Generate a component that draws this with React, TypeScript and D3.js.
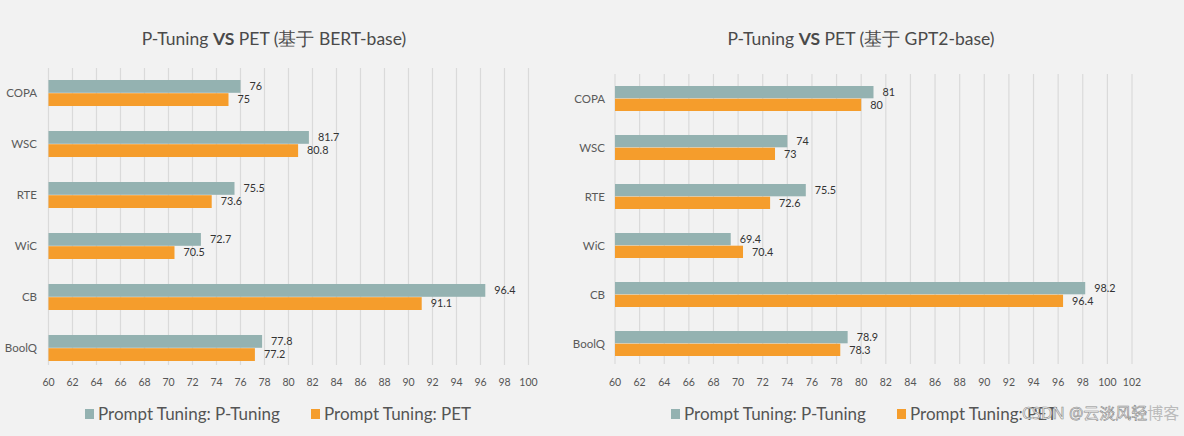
import React from "react";
import * as d3 from "d3";

const categories = ["COPA", "WSC", "RTE", "WiC", "CB", "BoolQ"];
const bertPTuning = [76, 81.7, 75.5, 72.7, 96.4, 77.8];
const bertPET = [75, 80.8, 73.6, 70.5, 91.1, 77.2];
const gpt2PTuning = [81, 74, 75.5, 69.4, 98.2, 78.9];
const gpt2PET = [80, 73, 72.6, 70.4, 96.4, 78.3];
const bertTicks = [60, 62, 64, 66, 68, 70, 72, 74, 76, 78, 80, 82, 84, 86, 88, 90, 92, 94, 96, 98, 100];
const gpt2Ticks = [60, 62, 64, 66, 68, 70, 72, 74, 76, 78, 80, 82, 84, 86, 88, 90, 92, 94, 96, 98, 100, 102];
const seriesNames = ["Prompt Tuning: P-Tuning", "Prompt Tuning: PET"];
const titleModel = ["BERT-base", "GPT2-base"];

const TEAL = "#94b2b1";
const ORANGE = "#f59d2c";
const FONT = "Lato, 'Noto Sans', sans-serif";

type PanelProps = {
  a: number[];
  b: number[];
  ticks: number[];
  model: string;
  xRange: [number, number];
  yRange: [number, number];
  gridTop: number;
  gridBottom: number;
  labelRight: number;
  titleX: number;
  legendX: [number, number];
};

function Panel(p: PanelProps) {
  const x = d3.scaleLinear().domain([p.ticks[0], p.ticks[p.ticks.length - 1]]).range(p.xRange);
  const y = d3.scaleBand<string>().domain(categories).range(p.yRange).paddingInner(0.49).paddingOuter(0);
  const inner = d3.scaleBand<string>().domain(["a", "b"]).range([0, y.bandwidth()]).paddingInner(0.03);
  const series = [p.a, p.b];
  const colors = [TEAL, ORANGE];
  return (
    <g>
      <text x={p.titleX} y={45} textAnchor="middle" fontSize={17.5} fill="#4a4a4a" fontFamily={FONT}>
        P-Tuning <tspan fontWeight="bold">VS</tspan> PET (基于 {p.model})
      </text>
      {p.ticks.map((t) => (
        <line key={"g" + t} x1={x(t)} x2={x(t)} y1={p.gridTop} y2={p.gridBottom} stroke="#dadada" strokeWidth={1.2} />
      ))}
      {p.ticks.map((t) => (
        <text key={"t" + t} x={x(t)} y={382} dy="0.35em" textAnchor="middle" fontSize={10.5} fill="#555" fontFamily={FONT}>
          {t}
        </text>
      ))}
      {categories.map((c, i) => (
        <g key={c}>
          <text x={p.labelRight} y={(y(c) as number) + y.bandwidth() / 2} dy="0.35em" textAnchor="end" fontSize={11.5} fill="#5a5a5a" fontFamily={FONT}>
            {c}
          </text>
          {series.map((s, k) => {
            const yy = (y(c) as number) + (inner(k === 0 ? "a" : "b") as number);
            const h = inner.bandwidth();
            return (
              <g key={k}>
                <rect x={x(p.ticks[0])} y={yy} width={x(s[i]) - x(p.ticks[0])} height={h} fill={colors[k]} />
                <text x={x(s[i]) + 9} y={yy + h / 2} dy="0.35em" fontSize={10.8} fill="#333" fontFamily={FONT}>
                  {s[i]}
                </text>
              </g>
            );
          })}
        </g>
      ))}
      {seriesNames.map((n, k) => (
        <g key={n}>
          <rect x={p.legendX[k]} y={409} width={9} height={10} fill={colors[k]} />
          <text x={p.legendX[k] + 13} y={414} dy="0.35em" fontSize={17} fill="#555" fontFamily={FONT}>
            {n}
          </text>
        </g>
      ))}
    </g>
  );
}

export default function App() {
  return (
    <svg width={1184} height={436} style={{ position: "absolute", left: 0, top: 0 }}>
      <rect x={0} y={0} width={1184} height={436} fill="#f2f2f2" />
      <Panel
        a={bertPTuning}
        b={bertPET}
        ticks={bertTicks}
        model={titleModel[0]}
        xRange={[48.5, 528.5]}
        yRange={[80, 361]}
        gridTop={68}
        gridBottom={365}
        labelRight={37}
        titleX={274}
        legendX={[85, 311]}
      />
      <Panel
        a={gpt2PTuning}
        b={gpt2PET}
        ticks={gpt2Ticks}
        model={titleModel[1]}
        xRange={[615, 1132]}
        yRange={[86, 356]}
        gridTop={74}
        gridBottom={364}
        labelRight={605}
        titleX={861}
        legendX={[671, 897]}
      />
      <text x={1022} y={413} dy="0.35em" fontSize={16} fill="#f8f8f8" stroke="#8a8a8a" strokeWidth={0.6} fontFamily="'Noto Sans', 'Noto Sans CJK SC', sans-serif">
        CSDN @云淡风轻<tspan fill="#bbb" stroke="none">博客</tspan>
      </text>
    </svg>
  );
}
